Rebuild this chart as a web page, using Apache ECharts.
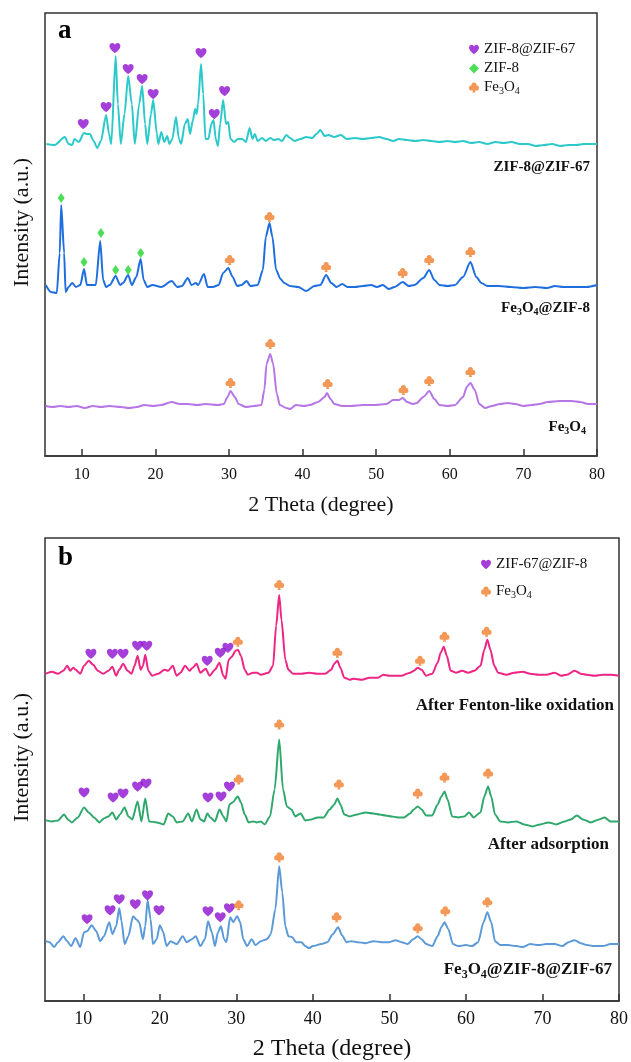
<!DOCTYPE html>
<html><head><meta charset="utf-8">
<script src="https://cdn.jsdelivr.net/npm/echarts@6/dist/echarts.min.js"></script>
<style>html,body{margin:0;padding:0;background:#fff}#c{width:631px;height:1062px}</style>
</head><body><div id="c"></div>
<script>
// ---------- shared ----------
const xTicks = [10, 20, 30, 40, 50, 60, 70, 80];

// ---------- panel a : patterns [2θ, intensity above own baseline] ----------
const zif8zif67 = [[5.2,0],[6.3,-1],[7.7,7],[8.2,0],[8.7,-1],[9.0,5],[9.6,2],[10.3,11],[10.7,10],[11.1,10],[11.6,3],[12.1,-4],[12.6,3],[13.3,29],[13.7,10],[14.0,0],[14.6,88],[14.9,40],[15.3,0],[15.8,30],[16.3,68],[16.8,40],[17.2,0],[17.8,40],[18.2,58],[18.6,20],[18.9,0],[19.4,30],[19.7,44],[20.2,10],[20.4,0],[20.8,12],[21.2,2],[21.6,8],[21.9,0],[22.3,5],[22.8,27],[23.2,5],[23.5,0],[24.0,20],[24.4,25],[24.7,10],[25.1,24],[25.4,35],[25.6,30],[25.8,40],[26.2,80],[26.5,50],[26.8,5],[27.2,5],[27.6,20],[27.9,24],[28.2,5],[28.5,-2],[28.8,20],[29.2,44],[29.6,20],[29.9,22],[30.2,5],[30.7,2],[31.2,5],[31.8,5],[32.3,2],[32.8,16],[33.2,5],[33.5,10],[33.9,3],[34.5,6],[35.0,3],[35.6,6],[36.1,4],[36.7,5],[37.2,3],[37.8,9],[38.3,6],[38.9,3],[39.7,5],[40.5,7],[41.3,6],[41.9,10],[42.4,14],[43.0,8],[43.5,9],[44.3,7],[45.2,9],[46.0,5],[47.1,6],[48.2,5],[49.3,6],[50.4,7],[51.4,5],[52.3,3],[53.1,5],[54.2,4],[55.3,3],[56.4,4],[57.5,3],[58.6,2],[59.7,3],[60.7,2],[61.8,3],[62.9,1],[64.0,2],[65.1,0],[66.2,2],[67.3,1],[68.4,2],[69.5,0],[70.6,0],[71.7,-2],[72.8,-1],[73.9,0],[75.0,-2],[76.1,-1],[77.2,-1],[78.2,0],[80.0,0]];
const fe3o4zif8 = [[5.1,0],[5.8,-7],[6.6,-8],[7.0,32],[7.2,80],[7.6,32],[7.8,-7],[8.2,-2],[8.7,2],[9.2,-2],[9.8,0],[10.3,16],[10.7,0],[11.2,0],[11.9,0],[12.5,44],[12.9,5],[13.3,-2],[13.8,0],[14.6,9],[15.2,0],[15.6,2],[16.3,10],[16.8,0],[17.4,8],[18.0,26],[18.4,5],[18.9,-2],[19.6,0],[20.8,-2],[22.2,4],[23.0,-2],[23.6,-1],[24.4,7],[24.9,0],[25.5,2],[25.8,0],[26.6,11],[27.1,-2],[27.8,-2],[28.6,0],[29.2,12],[29.9,17],[30.5,8],[31.1,-1],[31.7,0],[32.4,4],[32.9,-1],[33.9,0],[34.6,15],[35.0,48],[35.5,62],[35.9,48],[36.4,15],[37.0,6],[37.5,2],[38.3,-1],[39.4,-2],[40.5,-6],[41.6,-1],[42.4,0],[43.2,10],[43.9,2],[44.6,-2],[45.4,1],[46.1,-2],[47.1,-2],[48.2,-1],[49.3,0],[50.1,-2],[50.9,0],[51.7,-4],[52.5,-2],[53.6,3],[54.4,-1],[55.2,0],[56.4,7],[57.2,15],[57.9,5],[58.6,0],[59.7,-1],[60.7,0],[61.8,8],[62.8,23],[63.6,8],[64.3,2],[65.1,-1],[66.7,-1],[68.3,-2],[70.0,-3],[71.6,-2],[73.2,-3],[74.3,-1],[75.4,-2],[77.0,-2],[78.6,-2],[80.0,0]];
const fe3o4 = [[5.1,0],[6.0,-1],[7.1,0],[8.2,-1],[9.3,0],[10.4,-2],[11.5,0],[12.6,-1],[13.7,0],[15.3,-1],[16.4,-2],[17.5,-1],[18.5,1],[19.7,0],[20.8,1],[22.2,4],[23.3,2],[24.4,2],[25.7,1],[26.8,2],[28.5,1],[29.3,2],[29.8,9],[30.2,15],[30.8,9],[31.3,2],[32.3,-1],[33.4,0],[34.4,1],[34.8,16],[35.1,42],[35.6,52],[36.0,42],[36.5,12],[36.9,1],[37.8,-2],[38.3,-3],[39.1,1],[40.2,0],[41.0,1],[42.1,4],[43.0,9],[43.3,13],[43.8,7],[44.3,2],[45.4,0],[46.5,0],[48.2,1],[49.8,1],[51.4,2],[52.3,6],[53.1,6],[53.6,8],[54.2,4],[55.0,2],[55.5,3],[56.4,9],[57.2,15],[57.9,7],[58.6,1],[59.7,0],[60.7,1],[61.8,9],[62.3,19],[62.8,23],[63.4,16],[64.0,2],[64.8,-2],[65.7,0],[66.8,2],[67.9,3],[68.9,2],[70.0,0],[71.1,1],[72.2,2],[73.3,4],[74.9,5],[76.6,5],[77.7,4],[78.8,2],[80.0,2]];
const offsetsA = [312, 171, 50];   // vertical stacking offsets (a.u.)

// peak markers, panel a  [2θ, height above own baseline]
const heartsA = [[10.2,20],[13.3,37],[14.5,96],[16.3,75],[18.2,65],[19.7,50],[26.2,91],[28.0,30],[29.4,53]];
const diamondsA = [[7.2,87],[10.3,23],[12.6,52],[14.6,15],[16.3,15],[18.0,32]];
const clubsA_fz = [[30.1,25],[35.5,68],[43.2,18],[53.6,12],[57.2,25],[62.8,33]];
const clubsA_f = [[30.2,23],[35.6,62],[43.4,22],[53.7,16],[57.2,25],[62.8,34]];

// ---------- panel b ----------
const afterFenton = [[5.1,-1],[5.9,1],[6.7,-1],[7.4,2],[7.9,7],[8.3,2],[8.7,5],[9.0,3],[9.6,-1],[10.1,7],[10.7,12],[11.3,8],[11.9,2],[12.6,-1],[13.3,2],[13.8,6],[14.3,-3],[14.7,3],[15.2,9],[15.8,2],[16.3,-1],[16.7,7],[17.1,17],[17.5,3],[17.8,7],[18.1,18],[18.5,2],[19.0,-3],[19.8,-1],[20.6,3],[21.1,2],[21.7,7],[22.2,-3],[22.7,0],[23.3,7],[23.9,2],[24.3,5],[24.8,9],[25.3,0],[26.0,4],[26.5,-3],[27.2,3],[27.8,10],[28.3,-3],[28.6,-6],[29.0,13],[29.4,16],[29.9,22],[30.2,23],[30.6,17],[31.1,3],[31.5,-2],[32.2,0],[32.7,0],[33.2,-2],[34.2,0],[34.8,7],[35.2,47],[35.6,78],[35.9,53],[36.4,13],[36.8,3],[37.4,-1],[38.5,-1],[39.5,0],[40.6,-1],[41.6,-1],[42.4,3],[42.8,9],[43.2,12],[43.6,5],[44.1,-5],[44.8,-7],[45.3,-6],[46.4,-7],[47.4,-5],[48.5,-5],[49.2,-2],[50.0,-3],[50.8,-3],[51.6,-3],[52.7,0],[53.2,2],[53.7,5],[54.2,3],[54.8,-3],[55.6,-1],[56.3,10],[56.7,20],[57.1,26],[57.5,17],[58.0,2],[58.7,0],[59.5,2],[60.3,0],[61.1,2],[61.9,7],[62.4,23],[62.8,33],[63.2,23],[63.7,7],[64.2,0],[65.3,-2],[66.3,0],[67.4,1],[68.4,-1],[69.5,-2],[70.5,-2],[71.6,0],[72.4,-3],[73.2,-2],[74.2,2],[75.0,-1],[75.8,-2],[76.8,-3],[77.9,-2],[78.9,-2],[80.0,-3]];
const afterAdsorption = [[5.1,-1],[5.9,-2],[6.7,-1],[7.5,5],[8.0,0],[8.5,-3],[9.3,2],[10.1,12],[10.7,7],[11.4,2],[12.1,-3],[12.7,1],[13.3,3],[13.8,7],[14.3,0],[14.8,5],[15.4,12],[15.9,3],[16.4,0],[17.1,18],[17.6,-2],[18.1,21],[18.6,-2],[19.6,-3],[20.5,-5],[21.1,6],[21.7,3],[22.2,-3],[23.0,-2],[23.7,6],[24.2,-2],[24.8,10],[25.3,0],[25.8,-2],[26.2,6],[26.6,2],[27.2,-2],[27.8,10],[28.3,3],[28.7,-2],[29.1,15],[29.5,17],[30.2,23],[30.6,17],[31.1,5],[31.6,-3],[32.2,-2],[32.7,-3],[33.2,-2],[33.7,-5],[34.4,3],[35.0,30],[35.6,80],[36.1,30],[36.6,13],[37.2,10],[37.7,3],[38.4,6],[39.0,-1],[39.8,0],[40.6,2],[41.4,2],[42.2,10],[42.8,15],[43.2,21],[43.6,15],[44.1,5],[44.8,3],[45.8,5],[46.9,7],[47.9,6],[48.7,5],[49.5,4],[50.3,3],[51.1,2],[51.9,2],[52.7,6],[53.2,10],[53.7,13],[54.2,10],[54.8,4],[55.6,4],[56.3,15],[56.8,23],[57.2,28],[57.6,20],[58.2,3],[59.0,2],[59.8,3],[60.4,7],[61.0,2],[61.9,7],[62.4,23],[62.9,33],[63.3,23],[63.8,5],[64.5,-2],[65.5,-3],[66.6,-2],[67.6,-5],[68.7,-7],[69.7,-5],[70.8,-3],[71.8,-5],[72.9,-2],[73.7,0],[74.5,4],[75.3,0],[76.3,-3],[77.4,0],[78.1,2],[78.9,-2],[80.0,-2]];
const fe3o4zif8zif67 = [[5.1,3],[5.6,2],[6.2,-3],[6.7,2],[7.4,8],[7.9,3],[8.4,-2],[9.0,6],[9.6,-3],[10.1,12],[10.5,13],[11.1,19],[11.7,13],[12.2,3],[12.7,8],[13.4,22],[13.8,10],[14.3,18],[14.7,36],[15.0,23],[15.4,0],[15.9,8],[16.5,28],[16.9,25],[17.3,22],[17.8,5],[18.1,18],[18.4,44],[18.8,25],[19.1,0],[19.6,5],[20.0,19],[20.4,13],[20.9,-2],[21.4,3],[22.2,0],[23.0,8],[23.5,2],[24.2,5],[24.7,8],[25.3,-2],[25.9,5],[26.3,23],[26.8,12],[27.2,-2],[27.6,12],[28.0,18],[28.4,5],[28.7,2],[29.2,27],[29.6,22],[30.1,28],[30.5,22],[30.9,5],[31.4,-2],[32.0,5],[32.5,-1],[33.2,3],[34.0,5],[34.5,10],[35.1,35],[35.6,78],[36.0,52],[36.4,18],[36.8,8],[37.3,7],[37.8,2],[38.5,2],[39.0,-2],[39.5,-4],[40.0,-2],[41.1,0],[41.9,2],[42.6,10],[43.3,17],[43.8,9],[44.4,2],[45.0,3],[45.8,2],[46.9,1],[47.9,3],[49.0,2],[50.0,2],[50.8,4],[51.6,2],[52.4,0],[53.1,5],[53.7,8],[54.2,5],[54.8,0],[55.6,-2],[56.3,8],[56.8,17],[57.2,22],[57.7,15],[58.3,0],[59.0,-2],[60.0,-1],[60.8,-2],[61.6,2],[62.3,22],[62.8,32],[63.3,22],[63.8,3],[64.5,-1],[65.5,-1],[66.6,-2],[67.4,-3],[68.4,0],[69.5,-1],[70.5,0],[71.6,0],[72.6,-2],[73.4,2],[74.2,4],[75.0,1],[75.8,-1],[76.8,-2],[77.9,-2],[78.9,0],[80.0,0]];
const offsetsB = [329, 182, 57];

const heartsB_fenton = [[11.0,19],[13.8,19],[15.2,19],[17.1,27],[18.3,27],[26.2,12],[27.9,20],[28.9,25]];
const clubsB_fenton = [[30.2,31],[35.6,88],[43.2,20],[54.0,12],[57.2,36],[62.7,41]];
const heartsB_ads = [[10.1,27],[13.9,22],[15.2,26],[17.1,33],[18.2,36],[26.3,22],[28.0,23],[29.1,33]];
const clubsB_ads = [[30.3,40],[35.6,95],[43.4,35],[53.7,26],[57.2,42],[62.9,46]];
const heartsB_fresh = [[10.5,25],[13.5,34],[14.7,45],[16.8,40],[18.4,49],[19.9,34],[26.3,33],[27.9,27],[29.1,36]];
const clubsB_fresh = [[30.3,39],[35.6,87],[43.1,27],[53.7,16],[57.3,33],[62.8,42]];

// ---------- build ----------
const SERIF = 'Liberation Serif';
const shift = (arr, off) => arr.map(p => [p[0], p[1] + off]);
const HEART = 'path://M10,18.5 C10,18.5 0.5,12.5 0.5,6 C0.5,3 3,0.8 5.6,0.8 C7.6,0.8 9.2,2.2 10,3.8 C10.8,2.2 12.4,0.8 14.4,0.8 C17,0.8 19.5,3 19.5,6 C19.5,12.5 10,18.5 10,18.5 Z';
const CLUB = 'path://M10,0 A5.2,5.2 0 1,1 9.99,0 Z M5.2,5.6 A5.2,5.2 0 1,1 5.19,5.6 Z M14.8,5.6 A5.2,5.2 0 1,1 14.79,5.6 Z M10,8 L13.2,20 L6.8,20 Z';
const C_HEART = '#8e0fd0', C_DIAM = '#1fd62c', C_CLUB = '#f07e2c';

function lineS(name, data, off, color, gi) {
  return { type: 'line', name: name, xAxisIndex: gi, yAxisIndex: gi, data: shift(data, off),
    showSymbol: false, smooth: 0.25, smoothMonotone: 'x', lineStyle: { color: color, width: 2 }, silent: true, z: 2 };
}
function markS(name, data, symbol, size, color, gi) {
  return { type: 'scatter', name: name, xAxisIndex: gi, yAxisIndex: gi, data: data,
    symbol: symbol, symbolSize: size, itemStyle: { color: color }, silent: true, z: 3 };
}
function xAx(gi, fs, margin, nameSize, nameGap) {
  return { type: 'value', gridIndex: gi, min: 5, max: 80,
    axisLine: { show: true, lineStyle: { color: '#333', width: 1.5 } },
    axisTick: { show: true, inside: true, length: 7, customValues: xTicks, lineStyle: { color: '#333', width: 1.5 } },
    axisLabel: { customValues: xTicks, fontFamily: SERIF, fontSize: fs, color: '#111', margin: margin },
    splitLine: { show: false },
    name: '2 Theta (degree)', nameLocation: 'middle', nameGap: nameGap,
    nameTextStyle: { fontFamily: SERIF, fontSize: nameSize, color: '#111' } };
}
function yAx(gi, max) {
  return { type: 'value', gridIndex: gi, min: 0, max: max,
    axisLine: { show: false }, axisTick: { show: false }, axisLabel: { show: false }, splitLine: { show: false },
    name: 'Intensity (a.u.)', nameLocation: 'middle', nameGap: 12,
    nameTextStyle: { fontFamily: SERIF, fontSize: 22, color: '#111', padding: [0, 0, 0, 24] } };
}
const legendRich = {
  n: { fontFamily: SERIF, fontSize: 15, color: '#111', lineHeight: 18 },
  s: { fontFamily: SERIF, fontSize: 10, color: '#111', lineHeight: 9, verticalAlign: 'bottom' }
};
const legendFmt = name => name === 'Fe3O4' ? '{n|Fe}{s|3}{n|O}{s|4}' : '{n|' + name + '}';

function label(x, y, text, size) {
  const rich = {
    n: { fontFamily: SERIF, fontSize: size, fontWeight: 'bold', fill: '#111', lineHeight: size + 4 },
    s: { fontFamily: SERIF, fontSize: Math.round(size * 0.68), fontWeight: 'bold', fill: '#111', lineHeight: Math.round(size * 0.6), verticalAlign: 'bottom' }
  };
  return { type: 'text', x: x, y: y, z: 10, style: { text: text, align: 'right', verticalAlign: 'middle', rich: rich,
    fontFamily: SERIF, fontSize: size, fontWeight: 'bold', fill: '#111' } };
}

const option = {
  backgroundColor: '#fff',
  animation: false,
  grid: [
    { left: 45, top: 13, width: 552, height: 443, show: true, borderColor: '#333', borderWidth: 1.5, backgroundColor: 'transparent' },
    { left: 45, top: 538, width: 575, height: 464, show: true, borderColor: '#333', borderWidth: 1.5, backgroundColor: 'transparent' }
  ],
  xAxis: [xAx(0, 16, 11, 22, 38), xAx(1, 18, 9, 24, 36)],
  yAxis: [yAx(0, 443), yAx(1, 464)],
  legend: [
    { orient: 'vertical', left: 464, top: 37, itemWidth: 10, itemHeight: 10, itemGap: 4, selectedMode: false,
      data: ['ZIF-8@ZIF-67', 'ZIF-8', 'Fe3O4'], formatter: legendFmt, textStyle: { rich: legendRich } },
    { orient: 'vertical', left: 476, top: 552, itemWidth: 10, itemHeight: 10, itemGap: 12, selectedMode: false,
      data: ['ZIF-67@ZIF-8', 'Fe3O4'], formatter: legendFmt, textStyle: { rich: legendRich } }
  ],
  series: [
    lineS('ZIF-8@ZIF-67 pattern', zif8zif67, offsetsA[0], '#2cc9ca', 0),
    lineS('Fe3O4@ZIF-8 pattern', fe3o4zif8, offsetsA[1], '#1f6ee0', 0),
    lineS('Fe3O4 pattern', fe3o4, offsetsA[2], '#b676e6', 0),
    markS('ZIF-8@ZIF-67', shift(heartsA, offsetsA[0]), HEART, [11, 10], C_HEART, 0),
    markS('ZIF-8', shift(diamondsA, offsetsA[1]), 'diamond', [7, 10], C_DIAM, 0),
    markS('Fe3O4', shift(clubsA_fz, offsetsA[1]).concat(shift(clubsA_f, offsetsA[2])), CLUB, [10, 10], C_CLUB, 0),

    lineS('After Fenton-like oxidation pattern', afterFenton, offsetsB[0], '#ee2584', 1),
    lineS('After adsorption pattern', afterAdsorption, offsetsB[1], '#2fa86c', 1),
    lineS('Fe3O4@ZIF-8@ZIF-67 pattern', fe3o4zif8zif67, offsetsB[2], '#5b9ad6', 1),
    markS('ZIF-67@ZIF-8', shift(heartsB_fenton, offsetsB[0]).concat(shift(heartsB_ads, offsetsB[1]), shift(heartsB_fresh, offsetsB[2])), HEART, [11, 10], C_HEART, 1),
    markS('Fe3O4', shift(clubsB_fenton, offsetsB[0]).concat(shift(clubsB_ads, offsetsB[1]), shift(clubsB_fresh, offsetsB[2])), CLUB, [10, 10], C_CLUB, 1)
  ],
  graphic: [
    { type: 'text', x: 58, y: 31, style: { text: 'a', fontFamily: SERIF, fontSize: 27, fontWeight: 'bold', fill: '#000', verticalAlign: 'middle' } },
    { type: 'text', x: 58, y: 558, style: { text: 'b', fontFamily: SERIF, fontSize: 27, fontWeight: 'bold', fill: '#000', verticalAlign: 'middle' } },
    label(590, 167, '{n|ZIF-8@ZIF-67}', 15),
    label(590, 308, '{n|Fe}{s|3}{n|O}{s|4}{n|@ZIF-8}', 15),
    label(586, 427, '{n|Fe}{s|3}{n|O}{s|4}', 15),
    label(614, 706, '{n|After Fenton-like oxidation}', 17),
    label(609, 845, '{n|After adsorption}', 17),
    label(612, 970, '{n|Fe}{s|3}{n|O}{s|4}{n|@ZIF-8@ZIF-67}', 17)
  ]
};
const chart = echarts.init(document.getElementById('c'), null, { renderer: 'canvas' });
chart.setOption(option);
</script></body></html>
